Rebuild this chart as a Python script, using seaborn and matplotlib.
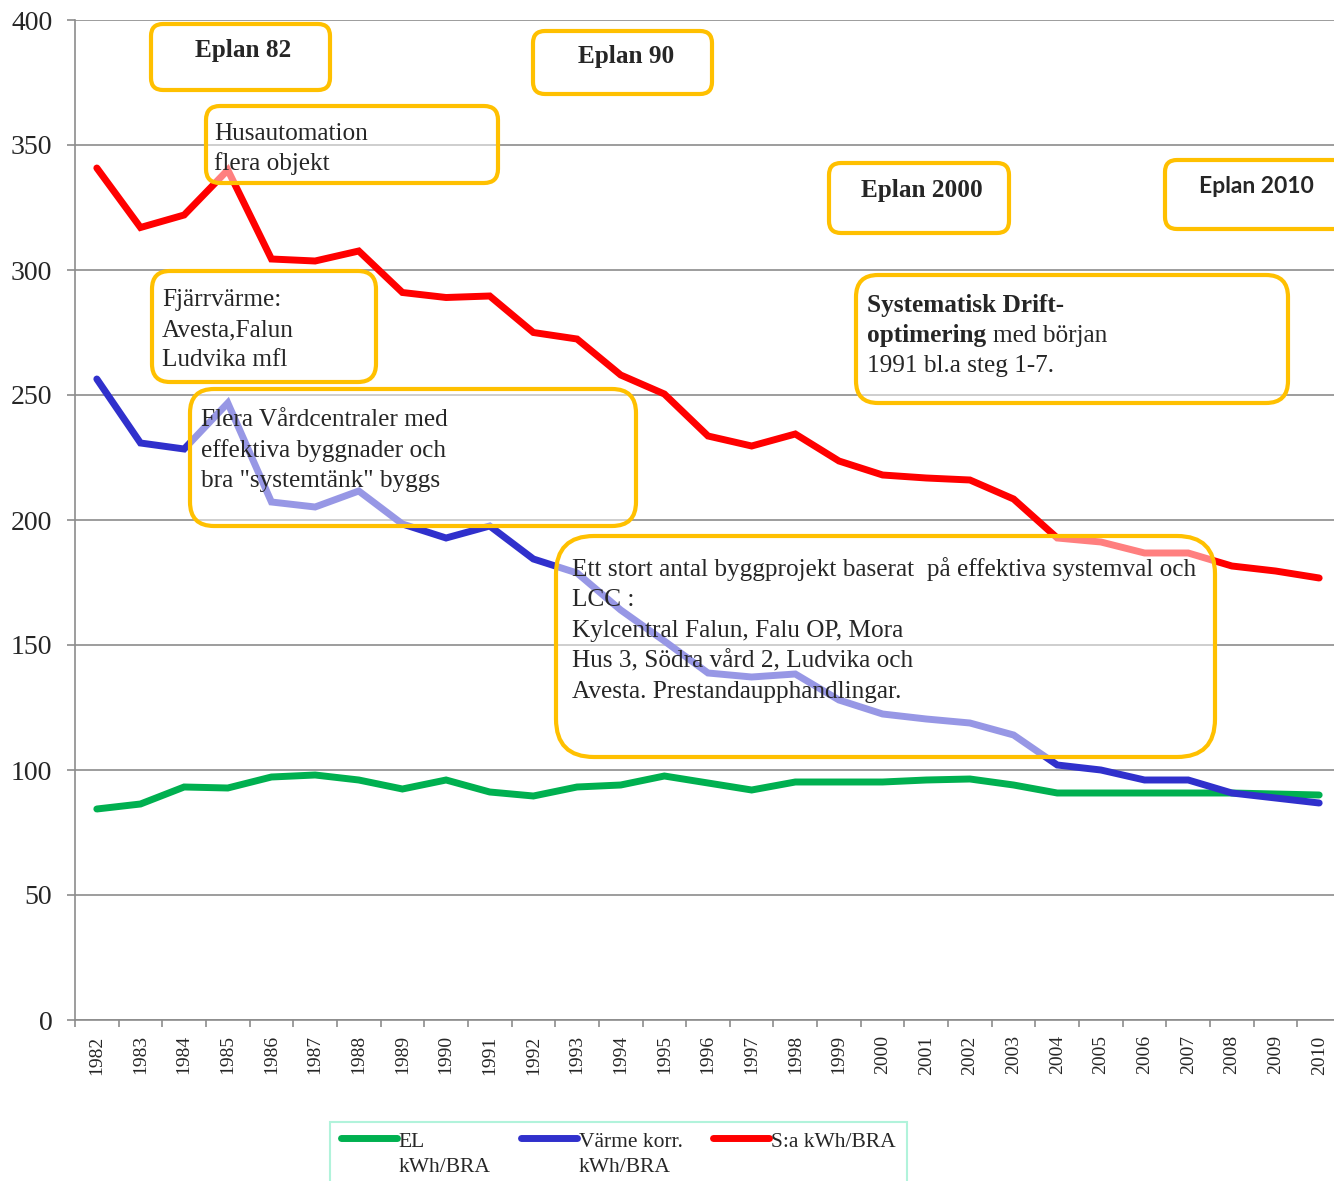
import matplotlib
matplotlib.use("Agg")
import matplotlib.pyplot as plt
import seaborn as sns
import numpy as np
import pandas as pd
from matplotlib.patches import FancyBboxPatch
from matplotlib.transforms import IdentityTransform
from matplotlib.legend_handler import HandlerLine2D

years = list(range(1982, 2011))
el = [84.4, 86.4, 93.2, 92.8, 97.2, 98.0, 96.0, 92.4, 96.0, 91.2,
      89.6, 93.2, 94.0, 97.6, 94.8, 92.0, 95.2, 95.2, 95.2, 96.0,
      96.4, 94.0, 90.8, 90.8, 90.8, 90.8, 90.8, 90.4, 90.0]
varme = [256.4, 230.8, 228.4, 246.8, 207.2, 205.2, 211.6, 198.4, 192.8, 197.6,
         184.4, 178.8, 164.0, 151.6, 138.8, 137.2, 138.4, 128.0, 122.4, 120.4,
         118.8, 114.0, 102.0, 100.0, 96.0, 96.0, 90.8, 88.8, 86.8]
summa = [340.8, 317.0, 322.0, 340.0, 304.4, 303.6, 307.6, 291.0, 289.0, 289.6,
         275.0, 272.4, 258.0, 250.4, 233.6, 229.6, 234.4, 223.6, 218.0, 216.8,
         216.0, 208.4, 192.8, 191.2, 186.8, 186.8, 181.6, 179.6, 176.8]
series_names = ["EL kWh/BRA", "Värme korr. kWh/BRA", "S:a kWh/BRA"]
legend_labels = ["EL\nkWh/BRA", "Värme korr.\nkWh/BRA", "S:a kWh/BRA\n"]
series_colors = ["#00B050", "#3030CC", "#FF0000"]

df = pd.DataFrame({"year": years * 3,
                   "value": el + varme + summa,
                   "series": [series_names[0]] * len(years)
                   + [series_names[1]] * len(years)
                   + [series_names[2]] * len(years)})

W, H = 1334, 1181
sns.set_style("white")
plt.rcParams["font.family"] = ["Liberation Serif", "DejaVu Serif"]

fig = plt.figure(figsize=(W / 100, H / 100), dpi=100)
ax = fig.add_axes([75 / W, 1 - 1020 / H, 1266 / W, 1000 / H])
sns.lineplot(data=df, x="year", y="value", hue="series", palette=series_colors,
             linewidth=5, ax=ax, solid_capstyle="round", solid_joinstyle="miter")

ax.set_xlim(1981.5, 2010.5)
ax.set_ylim(0, 400)
ax.set_yticks(range(0, 401, 50))
ax.set_xticks(years)
ax.set_xticklabels([str(y) for y in years], rotation=90, fontsize=14)
ax.set_xticks([y + 0.5 for y in years[:-1]] + [1981.5], minor=True)
ax.tick_params(axis="x", which="major", bottom=True, length=0, pad=11)
ax.tick_params(axis="x", which="minor", bottom=True, length=5, width=1.2,
               color="#8c8c8c", direction="out")
ax.tick_params(axis="y", left=True, labelsize=20, length=5.8, width=1.2,
               color="#8c8c8c", pad=10.5)
ax.set_xlabel("")
ax.set_ylabel("")
ax.grid(axis="y", color="#8c8c8c", linewidth=1.2)
for s in ["top", "right"]:
    ax.spines[s].set_visible(False)
for s in ["left", "bottom"]:
    ax.spines[s].set_color("#8c8c8c")
    ax.spines[s].set_linewidth(1.2)


class TopLineHandler(HandlerLine2D):
    # put the legend line level with the first text row
    def create_artists(self, legend, orig_handle, xdescent, ydescent,
                       width, height, fontsize, trans):
        arts = super().create_artists(legend, orig_handle, xdescent, ydescent,
                                      width, height, fontsize, trans)
        for a in arts:
            a.set_ydata(np.asarray(a.get_ydata()) + 0.75 * fontsize)
        return arts


handles, _ = ax.get_legend_handles_labels()
leg = ax.legend(handles, legend_labels, loc="upper left",
                bbox_to_anchor=(330 / W, 1 - 1122 / H),
                bbox_transform=fig.transFigure, ncol=3, fontsize=15.5,
                frameon=True, fancybox=False, handlelength=2.6, handletextpad=0.1,
                columnspacing=1.4, borderpad=0.5, borderaxespad=0,
                handler_map={h: TopLineHandler() for h in handles})
leg.get_frame().set_edgecolor("#9EF0D2")
leg.get_frame().set_linewidth(1.5)
for line in leg.get_lines():
    line.set_linewidth(5)
for t in leg.get_texts():
    t.set_linespacing(1.45)

ident = IdentityTransform()


def box(x0, y0, x1, y1, r):
    p = FancyBboxPatch((x0, H - y1), x1 - x0, y1 - y0,
                       boxstyle=f"round,pad=0,rounding_size={r}",
                       facecolor=(1, 1, 1, 0.5), edgecolor="#FFC000",
                       linewidth=3, transform=ident, zorder=2)
    fig.add_artist(p)


def txt(x, y, s, size=18.2, **kw):
    fig.text(x / W, 1 - y / H, s, va="baseline", fontsize=size, zorder=3, **kw)


def lines(x, y, rows, step, **kw):
    for i, r in enumerate(rows):
        txt(x, y + i * step, r, **kw)


box(151, 24, 330, 90, 12)
txt(243, 57, "Eplan 82", ha="center", fontweight="bold")
box(533, 31, 712, 94, 12)
txt(626, 63, "Eplan 90", ha="center", fontweight="bold")
box(206, 106, 498, 183, 14)
lines(214, 140, ["Husautomation", "flera objekt"], 30)
box(829, 163, 1009, 233, 12)
txt(922, 197, "Eplan 2000", ha="center", fontweight="bold")
box(1165, 160, 1350, 229, 12)
txt(1256, 193, "Eplan 2010", size=16.5, ha="center", fontweight="bold",
    family=["Lato", "DejaVu Sans"])
box(152, 271, 376, 382, 18)
lines(162, 306, ["Fjärrvärme:", "Avesta,Falun", "Ludvika mfl"], 30)
box(856, 275, 1288, 403, 22)
txt(867, 312, "Systematisk Drift-", fontweight="bold")
txt(867, 342, "optimering", fontweight="bold")
txt(993, 342, "med början")
txt(867, 372, "1991 bl.a steg 1-7.")
box(190, 389, 636, 526, 24)
lines(201, 426, ["Flera Vårdcentraler med", "effektiva byggnader och",
                 'bra "systemtänk" byggs'], 30.5)
box(556, 536, 1215, 757, 38)
lines(572, 576, ["Ett stort antal byggprojekt baserat  på effektiva systemval och",
                 "LCC :", "Kylcentral Falun, Falu OP, Mora",
                 "Hus 3, Södra vård 2, Ludvika och",
                 "Avesta. Prestandaupphandlingar."], 30.5)

fig.savefig("out.png", dpi=100)
